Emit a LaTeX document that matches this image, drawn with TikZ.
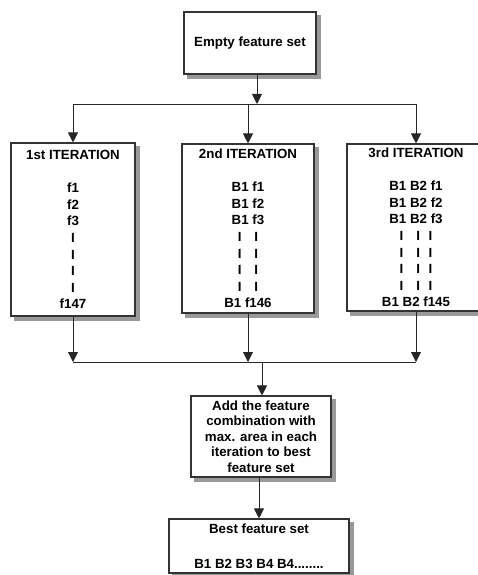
\documentclass[tikz,border=0pt]{standalone}
\usepackage{fontspec}
\setmainfont{Liberation Sans}
\usetikzlibrary{arrows.meta,backgrounds}

\begin{document}
\begin{tikzpicture}[x=1pt,y=-1pt,
        box/.style={draw=black!80,line width=1.1pt,fill=white,inner sep=0pt,
            align=center,font=\fontsize{13.3}{16.6}\selectfont\bfseries},
        shadowbox/.style={fill=black!40},
        link/.style={draw=black!85,line width=0.9pt},
        arrow/.style={link,-{Triangle[width=10pt,length=10pt]}}]
        \useasboundingbox (0,0) rectangle (477,575);

        % Draw the boxes
        \node[box,minimum width=132pt,minimum height=62pt] (empty) at (250,43) {Empty feature set};
        \node[box,minimum width=124pt,minimum height=173pt] (iter1) at (73,229.5)
            {1st ITERATION\\[16.6pt]f1\\f2\\f3\\I\\I\\I\\I\\f147};
        \node[box,minimum width=132pt,minimum height=169pt] (iter2) at (248,228.5)
            {2nd ITERATION\\[16.6pt]B1 f1\\B1 f2\\B1 f3\\I\hspace{13pt}I\\I\hspace{13pt}I\\I\hspace{13pt}I\\I\hspace{13pt}I\\B1 f146};
        \node[box,minimum width=138pt,minimum height=167pt] (iter3) at (416,227.5)
            {3rd ITERATION\\[16.6pt]B1 B2 f1\\B1 B2 f2\\B1 B2 f3\\I\hspace{13pt}I\hspace{8.5pt}I\\I\hspace{13pt}I\hspace{8.5pt}I\\I\hspace{13pt}I\hspace{8.5pt}I\\I\hspace{13pt}I\hspace{8.5pt}I\\B1 B2 f145};
        \node[box,minimum width=140pt,minimum height=81pt,font=\fontsize{13.3}{15.4}\selectfont\bfseries] (add) at (261,436.5)
            {Add the feature\\combination with\\max. area in each\\iteration to best\\feature set};
        \node[box,minimum width=180pt,minimum height=54pt] (best) at (259,546)
            {Best feature set\\[18pt]B1 B2 B3 B4 B4........};

        % Shadows behind the boxes
        \begin{scope}[on background layer]
            \foreach \boxname in {empty,iter1,iter2,iter3,add,best}
                \fill[shadowbox] ([shift={(4,4)}]\boxname.north west) rectangle ([shift={(4,4)}]\boxname.south east);
        \end{scope}

        % Junctions of the connectors
        \coordinate (split) at (257,104);
        \coordinate (merge) at (262,362);

        % Fan out to the iterations
        \draw[arrow] (empty.south -| split) -- (split);
        \draw[link] (split -| iter1) -- (split -| iter3);
        \draw[arrow] (split -| iter1) -- (iter1.north);
        \draw[arrow] (split -| iter2) -- (iter2.north);
        \draw[arrow] (split -| iter3) -- (iter3.north);

        % Collect the iterations
        \draw[arrow] (iter1.south) -- (merge -| iter1);
        \draw[arrow] (iter2.south) -- (merge -| iter2);
        \draw[arrow] (iter3.south) -- (merge -| iter3);
        \draw[link] (merge -| iter1) -- (merge -| iter3);
        \draw[arrow] (merge) -- (merge |- add.north);
        \draw[arrow] (add.south -| best) -- (best.north);
\end{tikzpicture}
\end{document}
